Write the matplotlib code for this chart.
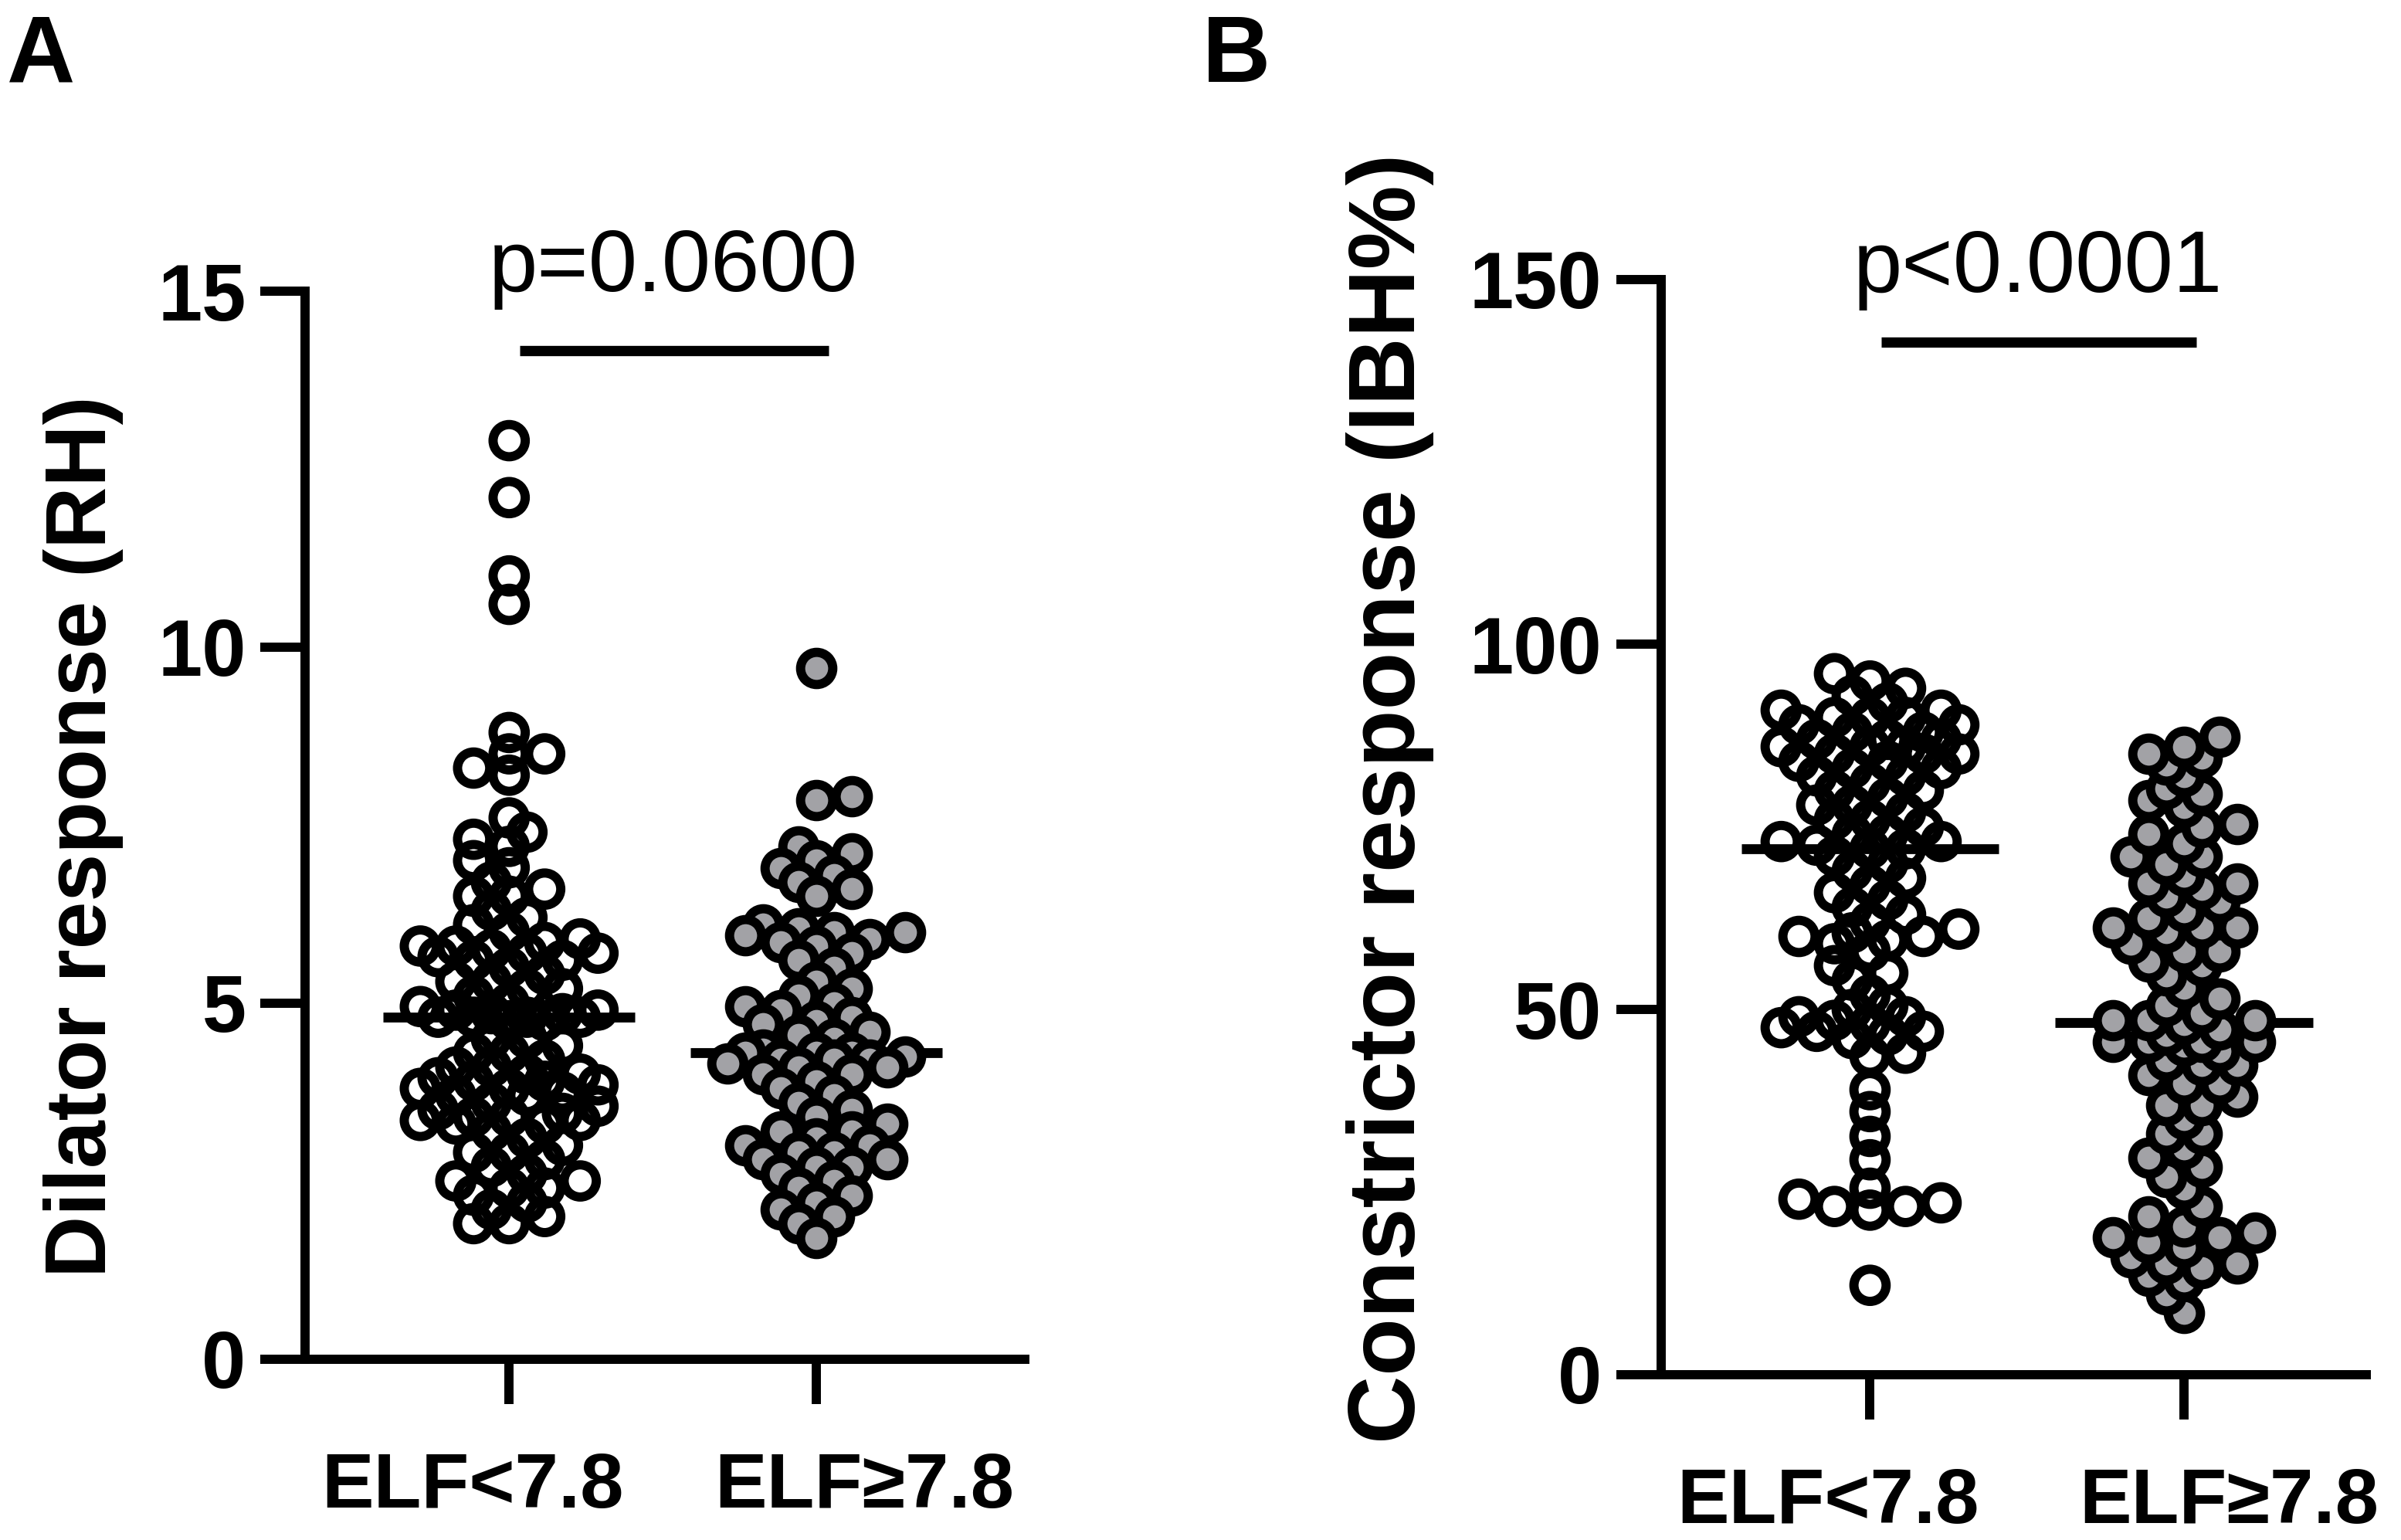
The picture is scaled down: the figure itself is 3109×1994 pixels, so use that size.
import numpy as np
import matplotlib
matplotlib.use('Agg')
import matplotlib.pyplot as plt
from matplotlib.transforms import ScaledTranslation

plt.rcParams['font.family'] = ['Liberation Sans', 'DejaVu Sans']

groups = ['ELF<7.8', 'ELF\u22657.8']

# Panel A - dilator response (RH)
dilator_low = [12.9, 12.1, 11.0, 10.6,
               8.8, 8.5, 8.5, 8.3, 8.2,
               7.6, 7.4, 7.3, 7.2, 7.0, 6.9,
               6.7, 6.6, 6.5, 6.5, 6.3, 6.2, 6.1, 6.0,
               5.9, 5.85, 5.8, 5.8, 5.75, 5.7, 5.7, 5.65, 5.6, 5.6,
               5.5, 5.4, 5.3, 5.3, 5.2, 5.2, 5.1, 5.0,
               4.95, 4.9, 4.9, 4.85, 4.8, 4.8, 4.85, 4.8, 4.75, 4.75,
               4.8, 4.5, 4.5, 4.4, 4.3, 4.3, 4.2, 4.1, 4.1, 4.0,
               4.0, 3.95, 3.9, 3.9, 3.85, 3.8, 3.8, 3.75, 3.7, 3.7,
               3.6, 3.55, 3.5, 3.45, 3.4, 3.4, 3.35, 3.35, 3.3, 3.3,
               3.2, 3.1, 3.0, 2.9, 2.9, 2.8,
               2.7, 2.6, 2.5, 2.5, 2.4, 2.4, 2.3,
               2.2, 2.1, 2.0, 1.9, 1.9]
dilator_high = [9.7,
                7.9, 7.85,
                7.2, 7.1, 7.0, 6.9, 6.8, 6.7, 6.6, 6.5,
                6.1, 6.05, 6.0, 6.0, 5.95, 5.9, 5.85,
                5.8, 5.7, 5.6, 5.5,
                5.3, 5.2, 5.1, 5.0, 4.95, 4.9, 4.8, 4.75, 4.7, 4.6, 4.55, 4.5,
                4.35, 4.3, 4.3, 4.3, 4.25, 4.2, 4.2, 4.2, 4.15, 4.1, 4.1, 4.0,
                4.0, 3.9, 3.8, 3.7, 3.6, 3.5, 3.4, 3.3, 3.2, 3.2, 3.1,
                3.0, 3.0, 2.9, 2.9, 2.8, 2.8, 2.7, 2.7, 2.6, 2.5, 2.4,
                2.3, 2.2, 2.1, 2.0, 1.9, 1.7]

# Panel B - constrictor response (IBH%)
constrictor_low = [12.2, 22.5, 23, 23, 23.5, 24, 25.5, 29.4, 32.6, 36, 39, 43.6,
                   44, 46, 46.5, 47, 47, 47.5, 48, 48.5, 49, 49, 50, 50.5,
                   52, 54, 55, 56, 58, 59, 59.5, 60, 60, 60.5, 61, 62,
                   63, 64, 65, 66, 67, 68, 69, 70, 71, 72, 72, 72.5, 73, 73,
                   74, 74, 75, 76, 76, 77, 78, 78, 79, 80, 80, 81,
                   82, 82, 83, 83, 84, 84, 85, 85, 85, 86, 86, 86, 87, 87, 87,
                   88, 88, 89, 89, 90, 90, 90, 91, 91, 92, 93, 94, 95, 96]
constrictor_high = [8.4, 10.9, 12.9, 13.5, 14.5, 15.2, 15.2, 16, 17.4, 18, 18.8, 18.8,
                    19.4, 20.3, 21.6,
                    23, 25.5, 27, 28.4, 29.7, 31, 33, 33, 35, 36.9, 36.9, 38, 39.8, 39.8, 41,
                    42.4, 42.4, 43, 44.3, 45, 45.6, 45.6, 45.6, 45.6, 46.5, 47.2, 48,
                    48.5, 48.5, 48.5, 49.5,
                    50.5, 51.5, 53, 54.7, 56, 56.6, 57.9, 57.9, 59, 60.6, 61.2, 61.2, 61.2,
                    62.5, 63.4, 64.7, 65.4, 66.5, 67.3, 67.3, 68.3, 69.9, 71, 71,
                    72.8, 74, 75, 75.4, 77.7, 78.7, 79.5, 80.3, 82, 83.5, 84.5, 85, 86, 87.4]

p_texts = ['p=0.0600', 'p<0.0001']

W, H, DPI = 3109, 1994, 200
fig = plt.figure(figsize=(W / DPI, H / DPI), dpi=DPI)

axA = fig.add_axes([395 / W, 1 - 1759.5 / H, 932 / W, (1759.5 - 377) / H])
axB = fig.add_axes([2151 / W, 1 - 1779.5 / H, 913 / W, (1779.5 - 362) / H])

GRAY = '#a2a2a6'
LW = 4.3


def swarm_x(ax, values, center, slot=23.0, dmin=27.0, max_k=5):
    # Prism-like layout: points sit on horizontal slots, overlap when crowded
    vals = np.asarray(values, float)
    ypx = ax.transData.transform(np.column_stack([np.zeros_like(vals), vals]))[:, 1]
    px_unit = ax.transData.transform([(1, 0)])[0, 0] - ax.transData.transform([(0, 0)])[0, 0]
    xs = np.zeros(len(vals))
    px, py = [], []
    flip = 1
    for i in np.argsort(vals):
        cands = [0.0]
        for k in range(1, max_k + 1):
            cands += [flip * k * slot, -flip * k * slot]
        best, best_d = 0.0, -1.0
        for off in cands:
            if not px:
                best = off
                break
            d = np.sqrt(((np.array(px) - off) ** 2 + (np.array(py) - ypx[i]) ** 2).min())
            if d >= dmin:
                best = off
                break
            if d > best_d:
                best, best_d = off, d
        flip = -flip
        xs[i] = best
        px.append(best)
        py.append(ypx[i])
    return center + xs / px_unit


def panel(ax, low, high, xmax, ymax, yticks, ptxt, ptxt_y, bar_y, lab_shift):
    ax.set_xlim(-0.665, xmax)
    ax.set_ylim(0, ymax)
    for spine in ['top', 'right']:
        ax.spines[spine].set_visible(False)
    for spine in ['left', 'bottom']:
        ax.spines[spine].set_linewidth(LW)
        ax.spines[spine].set_capstyle('projecting')
    ax.set_yticks(yticks)
    ax.set_xticks([0, 1], groups)
    ax.tick_params(axis='y', length=21, width=LW, labelsize=37, pad=6.5)
    ax.tick_params(axis='x', length=21, width=LW, labelsize=36.5, pad=22)
    for lab in ax.get_xticklabels() + ax.get_yticklabels():
        lab.set_fontweight('bold')
    for lab, dx in zip(ax.get_xticklabels(), lab_shift):
        lab.set_transform(lab.get_transform() + ScaledTranslation(dx, 0, fig.dpi_scale_trans))

    for c, vals in enumerate([low, high]):
        med = np.median(vals)
        ax.plot([c - 0.41, c + 0.41], [med, med], color='black', lw=4.6,
                solid_capstyle='butt', zorder=2)
    xl = swarm_x(ax, low, 0)
    xh = swarm_x(ax, high, 1)
    ax.scatter(xl, low, s=15 ** 2, facecolors='none', edgecolors='black',
               linewidths=LW, zorder=3, clip_on=False)
    ax.scatter(xh, high, s=15 ** 2, facecolors=GRAY, edgecolors='black',
               linewidths=LW, zorder=3, clip_on=False)

    ax.plot([0.035, 1.04], [bar_y, bar_y], color='black', lw=4.8,
            solid_capstyle='butt', clip_on=False)
    ax.text(0.535, ptxt_y, ptxt, fontsize=41, ha='center', va='baseline',
            clip_on=False)


panel(axA, dilator_low, dilator_high, 1.68, 15, [0, 5, 10, 15], p_texts[0],
      15.0, 14.16, (-0.2375, 0.315))
panel(axB, constrictor_low, constrictor_high, 1.58, 150, [0, 50, 100, 150], p_texts[1],
      148.3, 141.4, (-0.2725, 0.29))

fig.text(108 / W, 1 - 1083 / H, 'Dilator response (RH)', rotation=90,
         ha='center', va='center', fontsize=40, fontweight='bold')
fig.text(1800 / W, 1 - 1034 / H, 'Constrictor response (IBH%)', rotation=90,
         ha='center', va='center', fontsize=44, fontweight='bold')

fig.text(9 / W, 1 - 17 / H, 'A', fontsize=44, fontweight='bold', ha='left', va='top')
fig.text(1557 / W, 1 - 17 / H, 'B', fontsize=44, fontweight='bold', ha='left', va='top')

fig.savefig('out.png', dpi=DPI, facecolor='white')
